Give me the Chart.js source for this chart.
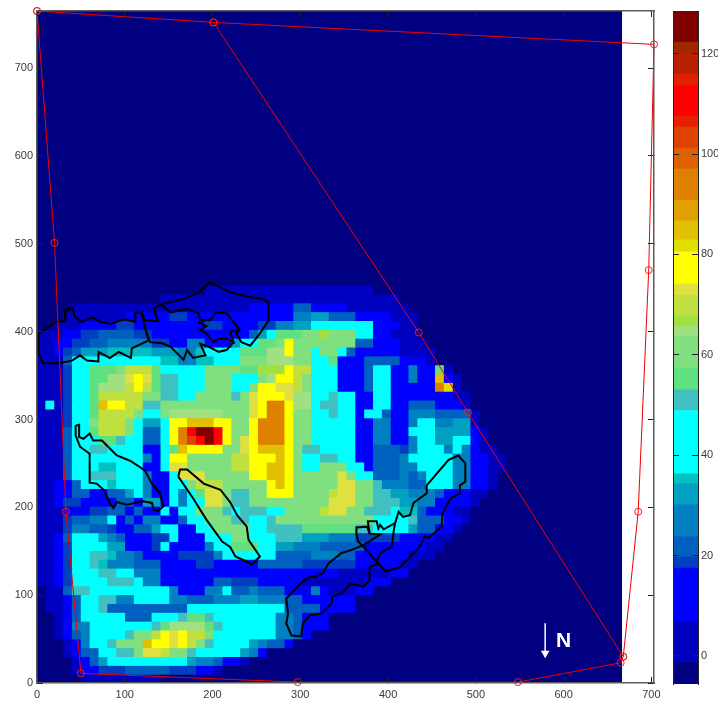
<!DOCTYPE html>
<html>
<head>
<meta charset="utf-8">
<script src="https://cdn.jsdelivr.net/npm/chart.js@4/dist/chart.umd.min.js"></script>
<style>
body { margin: 0; background: #fff; }
#plot { position: absolute; left: 0; top: 0; }
#bar { position: absolute; left: 660px; top: 0; }
</style>
</head>
<body>
<canvas id="plot" width="718" height="702"></canvas>
<canvas id="bar" width="58" height="702"></canvas>
<script>
// Colour scale
const levelEdges = [-5.6,-1.3,6.9,17.5,19.7,23.8,30.1,34.3,36.3,48.9,53,57.4,63.6,65.6,67.8,71.9,74.1,80.5,82.9,86.7,90.8,97,101.2,105.4,107.5,113.7,115.9,120.2,122.3,128.5];
const levelColors = ['#000080','#0000c0','#0000ff','#0040c0','#0060c0','#0080c0','#00a0c0','#00c0c0','#00ffff','#40c0c0','#60e080','#80e080','#a0e080','#a0e040','#c0e040','#e0e040','#ffff00','#e0e000','#e0c000','#e0a000','#e08000','#e06000','#e04000','#e82000','#ff0000','#e02000','#b82000','#a02800','#800000'];
const axisTicks = [0,100,200,300,400,500,600,700];
const barTicks = [0,20,40,60,80,100,120];

// Short names for the field values that occur
const n=-4,b=3,c=12,d=18.5,e=22,f=27,g=32,h=35,i=42,j=51,k=55,l=60,m=64.6,o=67,p=70,q=73,r=77,s=81.5,t=85,v=94,x=103,z=110,D=125;

// Field rows bottom to top, as value,count runs over columns; anything after a run list is background
const row00=[n,5,b,9];
const row01=[n,4,b,1,c,2,d,3,e,5,d,3,c,2,b,1];
const row02=[n,4,b,1,c,1,e,1,g,1,i,9,g,1,f,2,e,1,c,2,b,1];
const row03=[n,3,b,1,c,1,e,2,i,2,j,2,l,1,q,2,p,1,l,2,j,1,i,5,g,1,f,1,c,1];
const row04=[n,3,b,1,c,1,f,1,i,2,j,1,l,3,t,1,r,2,q,1,r,1,p,1,l,1,j,1,i,4,g,1,f,1,e,2,c,1];
const row05=[n,2,b,1,c,1,e,1,f,1,i,4,j,1,l,2,p,1,r,1,q,1,r,1,p,2,l,1,i,7,f,2,e,1,c,1];
const row06=[n,2,b,1,c,1,f,2,i,7,j,1,k,1,m,4,k,1,j,1,i,6,f,2,e,1,c,3];
const row07=[n,2,b,1,c,1,e,1,i,5,e,3,i,3,j,1,k,2,j,1,i,7,f,2,e,1,c,3];
const row08=[n,1,b,2,c,1,e,1,i,2,j,1,e,9,i,11,e,4,c,4];
const row09=[n,1,b,2,c,1,e,1,i,2,j,2,f,2,i,4,f,2,e,3,f,3,g,2,f,3,e,2,c,6];
const row10=[n,1,b,2,e,1,j,2,i,9,f,1,c,3,f,2,i,1,e,2,f,1,e,3,c,3,f,1,c,1,b,3,c,2];
const row11=[b,2,c,1,d,1,i,4,j,3,i,1,f,2,c,6,e,2,d,3,c,5,b,7,c,3];
const row12=[b,2,c,1,d,1,i,3,j,2,i,2,f,3,c,20,b,6,c,2];
const row13=[b,2,c,1,d,1,i,2,j,1,h,1,f,3,e,3,c,4,d,2,c,5,e,5,d,6,c,5,b,2];
const row14=[b,2,c,1,d,1,i,2,j,2,h,1,f,2,e,1,c,4,d,4,f,1,i,6,e,4,f,3,e,2,c,6,b,3];
const row15=[b,2,c,1,d,1,i,4,g,2,c,3,d,1,i,1,c,4,f,1,i,2,k,3,i,2,g,2,f,3,e,5,c,7,b,2];
const row16=[b,2,c,1,e,1,i,3,g,1,f,1,e,1,c,3,d,2,i,1,c,3,i,3,l,2,i,3,j,3,g,3,f,3,d,5,c,4,b,2];
const row17=[b,3,d,1,f,2,e,2,d,1,c,2,e,2,g,1,i,2,c,2,i,2,l,4,i,2,j,4,k,6,j,2,i,4,g,1,e,2,c,2,b,1];
const row18=[b,3,d,1,e,2,f,2,i,1,c,1,e,1,c,1,f,2,c,2,e,1,i,2,l,3,j,2,i,2,j,1,l,11,i,4,j,1,e,3,c,2,b,1];
const row19=[b,3,c,3,d,2,e,2,c,1,e,1,c,2,i,1,c,1,i,2,l,3,j,1,i,1,j,3,i,2,l,4,p,1,q,2,l,2,j,3,i,1,h,2,e,1,c,3,b,2];
const row20=[b,2,c,1,d,2,c,4,e,2,c,1,g,2,c,1,i,1,f,1,i,2,q,2,l,1,j,2,l,9,q,3,l,2,j,3,g,2,f,2,c,4,b,1];
const row21=[b,2,c,2,e,2,c,2,e,2,g,1,i,1,f,1,c,2,i,1,f,1,i,1,k,1,q,2,l,1,j,2,l,2,r,3,l,4,p,1,q,2,l,2,j,2,g,2,f,3,e,1,c,3,b,2];
const row22=[b,2,c,2,e,1,i,3,h,1,i,3,f,1,c,2,i,2,l,1,p,3,l,5,r,1,t,1,r,1,l,5,q,2,l,2,j,1,f,3,e,2,i,3,f,2,c,2,b,1];
const row23=[b,3,e,1,i,2,j,3,i,3,f,1,c,2,i,1,q,3,l,5,r,2,t,2,r,1,l,5,q,1,l,1,i,2,e,3,f,1,e,1,f,1,i,3,f,2,c,2,b,1];
const row24=[b,3,e,1,i,3,h,2,i,3,c,2,i,1,q,2,l,5,p,2,r,2,t,2,r,1,l,1,i,2,l,3,i,2,c,1,e,3,f,2,i,4,f,2,c,2,b,2];
const row25=[b,3,e,1,i,8,f,1,c,1,i,1,r,2,l,5,p,2,r,3,t,1,r,1,l,1,i,2,j,2,i,2,c,2,e,3,f,1,i,5,f,2,c,2,b,2];
const row26=[b,3,e,1,i,2,j,2,i,4,c,2,i,1,k,1,t,1,r,4,l,2,q,1,r,1,t,3,r,1,l,1,j,2,i,4,c,2,e,3,d,1,f,1,i,3,f,1,i,1,f,1,c,1,b,2];
const row27=[b,3,e,1,i,3,k,2,j,1,i,2,e,2,i,1,r,1,v,1,x,1,z,1,D,1,z,1,r,1,l,1,q,1,r,1,v,3,r,1,l,2,i,5,c,2,f,2,c,2,f,1,i,2,g,2,i,2,c,1,b,1];
const row28=[b,3,e,1,i,2,k,1,p,3,l,1,i,1,e,2,i,1,r,1,v,1,z,1,D,2,z,1,r,1,l,2,r,1,v,3,r,1,l,2,i,5,c,2,f,2,c,2,i,3,g,4,c,1,b,1];
const row29=[b,3,d,1,i,2,l,1,p,3,l,1,i,1,g,2,i,1,r,2,t,3,r,2,l,2,r,1,v,3,r,1,l,2,i,5,c,2,f,2,c,2,f,1,i,2,f,2,g,2,b,1];
const row30=[b,3,d,1,i,2,k,1,p,4,l,1,i,2,l,1,m,6,l,3,q,1,r,1,v,2,r,1,l,2,i,2,j,1,i,2,c,1,i,2,e,1,c,2,f,3,e,4,b,1];
const row31=[b,1,i,1,b,1,d,1,i,2,k,1,t,1,r,2,p,2,j,2,l,10,q,1,r,1,v,2,r,1,m,2,i,1,j,2,i,2,c,2,i,2,c,2,e,3,c,3,b,1];
const row32=[b,3,d,1,i,2,k,1,p,5,l,2,j,2,i,2,l,4,j,1,l,1,q,1,r,3,q,1,m,2,i,2,j,1,i,2,c,2,i,2,c,7,b,2];
const row33=[b,3,d,1,i,2,k,1,m,3,p,1,r,1,p,1,k,1,j,2,i,3,l,3,i,2,l,1,r,2,q,2,p,1,l,1,i,3,c,3,e,1,i,2,c,5,v,1,s,1,b,1];
const row34=[b,3,d,1,i,2,k,2,m,2,q,1,r,1,q,1,k,1,j,2,i,3,l,3,i,3,l,1,m,1,r,2,p,1,l,1,i,3,c,3,e,1,i,2,c,2,f,1,c,2,t,1,c,1,b,1];
const row35=[b,3,d,1,i,2,k,3,l,1,p,3,k,1,i,5,l,4,k,2,o,3,r,1,p,2,i,3,c,3,e,1,i,2,c,2,f,1,c,2,k,1,b,1];
const row36=[b,3,e,1,i,10,h,2,f,2,h,2,i,3,l,3,m,3,l,2,i,2,k,1,c,3,e,4,c,3,b,1];
const row37=[b,2,c,1,d,1,e,1,g,3,h,5,g,3,f,2,h,1,i,4,k,3,m,2,r,1,l,2,i,1,l,2,i,1,e,1,c,5,b,4];
const row38=[b,2,c,2,d,2,e,2,f,5,d,2,c,2,f,2,c,3,g,1,i,2,k,2,l,1,r,1,l,7,e,2,c,3,b,3];
const row39=[b,3,c,2,d,2,e,4,d,2,c,11,e,1,g,1,i,1,k,3,l,2,o,1,l,3,i,2,c,2,b,3];
const row40=[n,2,b,3,c,4,d,2,c,8,d,2,c,4,d,2,f,2,g,2,i,7,c,3,b,2];
const row41=[n,3,b,7,c,5,d,2,c,12,f,2,g,2,e,3,c,4,b,3];
const row42=[n,4,b,20,c,5,e,2,c,4,b,7];
const row43=[n,14,b,27];
const row44=[n,19,b,19];
const fieldRows=[row00,row01,row02,row03,row04,row05,row06,row07,row08,row09,row10,row11,row12,row13,row14,row15,row16,row17,row18,row19,row20,row21,row22,row23,row24,row25,row26,row27,row28,row29,row30,row31,row32,row33,row34,row35,row36,row37,row38,row39,row40,row41,row42,row43,row44];
const fieldCols = 66, fieldRowCount = 76, fieldWidth = 666, fieldHeight = 765;

// Red survey polygon and its inner diagonal
const polygonX = [0,201,703,697,685,668,665,548,297,50,33,20,0];
const polygonY = [765,752,727,470,195,30,23,1,1,11,195,501,765];
const diagonalX = [201,435,491,668];
const diagonalY = [752,399,308,30];

// Black outlines
const topLoopX = [141,167,184,197,220,239,258,264,264,254,243,233,227,231,216,204,197,186,184,171,152,141];
const topLoopY = [431,437,444,456,445,440,437,432,413,398,384,388,398,402,421,422,413,413,421,426,422,431];
const fingersX = [231,220,224,216,207,201,193,186,193,184];
const fingersY = [402,400,388,392,392,388,398,402,406,411];
const upperLoopX = [224,216,207,193,186,192,178,171,167,152,142,129,123,119,112,112,100,83,72,63,51,43,41,33,32,22,1.5,1.5,7,24,40,49,57,70,70,83,93,107,108,127,123];
const upperLoopY = [388,379,377,384,386,373,370,379,368,383,387,388,405,422,421,411,414,409,411,416,411,417,427,425,412,411,398,375,364,364,367,373,367,366,377,370,377,370,381,390,405];
const upperLinkX = [119,123,138,133,141];
const upperLinkY = [422,413,412,426,431];
const leftLoopX = [44,48,48,53,60,64,74,87,91,106,123,131,140,144,138,133,131,121,102,91,87,83,76,68,60,60,60,49,44,44];
const leftLoopY = [293,294,280,278,284,276,276,263,259,253,242,227,216,201,196,197,205,207,203,206,199,205,220,227,228,243,261,269,282,293];
const midLoopX = [161,163,171,190,209,220,228,239,241,254,245,235,226,220,211,193,178,161];
const midLoopY = [235,243,243,227,220,206,191,178,163,144,135,140,144,155,161,186,210,235];
const lowerLoopX = [408,412,417,425,429,444,444,469,480,488,488,482,482,471,462,461,446,442,436,414,404,397,389,379,379,372,357,347,336,336,324,311,303,301,290,284,286,284,300,311,317,326,332,347,357,372,391,379,376,364,364,366,373,387,389];
const lowerLoopY = [182,195,189,191,205,216,225,254,259,250,229,225,216,210,193,178,165,167,155,132,129,127,136,132,117,110,113,102,98,91,79,77,68,53,54,68,79,96,113,121,121,125,136,148,151,157,169,170,178,177,169,161,154,138,136];
const lowerLinkX = [387,391,404,406,408,395,391,389,387,377,379];
const lowerLinkY = [138,148,155,170,182,175,180,176,184,184,170];

// North arrow
const arrowX = [579,579];
const arrowY = [68,34];
const northLabel = 'N';
const northX = 600, northY = 48;

const colorOf = val => levelColors[Math.max(0, levelEdges.findIndex(edge => val < edge) - 1)];
const toPoints = (xs, ys) => xs.map((val, idx) => ({x: val, y: ys[idx]}));

// Expand the runs into one square per cell
const cellPoints = [], cellColors = [];
for (let rowIndex = 0; rowIndex < fieldRowCount; rowIndex++) {
    const runs = fieldRows[rowIndex] || [];
    const values = [];
    for (let run = 0; run < runs.length; run += 2) {
        for (let count = 0; count < runs[run + 1]; count++) values.push(runs[run]);
    }
    for (let colIndex = 0; colIndex < fieldCols; colIndex++) {
        const val = colIndex < values.length ? values[colIndex] : n;
        cellPoints.push({x: (colIndex + 0.5) * fieldWidth / fieldCols, y: (rowIndex + 0.5) * fieldHeight / fieldRowCount});
        cellColors.push(colorOf(val));
    }
}

function outline(xs, ys) {
    return { type:'line', data:toPoints(xs, ys), borderColor:'#000', borderWidth:2, pointRadius:0, tension:0, fill:false, order:2, clip:false };
}

// Fixes an axis size and drops the room Chart.js keeps for half a tick label
const fixedSize = (prop, size) => scale => {
    scale[prop] = size;
    scale.paddingTop = scale.paddingBottom = scale.paddingLeft = scale.paddingRight = 0;
};
const tickFont = { family:'"Liberation Sans", Arial, sans-serif', size:11 };
const tickColor = '#3a3a3a';
const frame = { display:true, color:'#5a5a5a', width:1.5, z:2 };
const tickMarks = { drawOnChartArea:false, drawTicks:true, tickLength:-6, color:'#222', z:2 };

const northText = {
    id:'northText',
    afterDatasetsDraw(ch) {
        const ctx = ch.ctx;
        ctx.save();
        ctx.fillStyle = '#fff';
        ctx.font = 'bold 21px "Liberation Sans", Arial, sans-serif';
        ctx.textAlign = 'center';
        ctx.textBaseline = 'middle';
        ctx.fillText(northLabel, ch.scales.x.getPixelForValue(northX), ch.scales.y.getPixelForValue(northY));
        ctx.restore();
    }
};

new Chart(document.getElementById('plot').getContext('2d'), {
    type:'scatter',
    plugins:[northText],
    data:{ datasets:[
        { data:cellPoints, pointStyle:'rect', pointRadius:7, pointBackgroundColor:cellColors, pointBorderWidth:0, pointHoverRadius:7, order:10, clip:0 },
        outline(topLoopX, topLoopY),
        outline(fingersX, fingersY),
        outline(upperLoopX, upperLoopY),
        outline(upperLinkX, upperLinkY),
        outline(leftLoopX, leftLoopY),
        outline(midLoopX, midLoopY),
        outline(lowerLoopX, lowerLoopY),
        outline(lowerLinkX, lowerLinkY),
        { type:'line', data:toPoints(polygonX, polygonY), borderColor:'#f00000', borderWidth:1, tension:0, fill:false, pointRadius:3.5, pointBorderColor:'#f02020', pointBackgroundColor:'transparent', pointBorderWidth:1, order:1, clip:false },
        { type:'line', data:toPoints(diagonalX, diagonalY), borderColor:'#f00000', borderWidth:1, tension:0, fill:false, pointRadius:3.5, pointBorderColor:'#f02020', pointBackgroundColor:'transparent', pointBorderWidth:1, order:1, clip:false },
        { type:'line', data:toPoints(arrowX, arrowY), borderColor:'#fff', borderWidth:1.5, tension:0, fill:false, pointStyle:'triangle', pointRotation:180, pointRadius:[0,5], pointBackgroundColor:'#fff', pointBorderColor:'#fff', pointBorderWidth:0, order:0 }
    ]},
    options:{
        responsive:false,
        animation:false,
        events:[],
        layout:{ padding:{ left:0, right:64, top:11, bottom:0 } },
        plugins:{ legend:{ display:false }, tooltip:{ enabled:false } },
        scales:{
            x:{ type:'linear', position:'bottom', min:0, max:703, afterFit:fixedSize('height',19), border:frame, grid:tickMarks,
                afterBuildTicks:ax => { ax.ticks = axisTicks.map(val => ({value:val})); },
                ticks:{ font:tickFont, color:tickColor, padding:11, maxRotation:0, autoSkip:false } },
            y:{ type:'linear', position:'left', min:0, max:765, afterFit:fixedSize('width',37), border:frame, grid:tickMarks,
                afterBuildTicks:ax => { ax.ticks = axisTicks.map(val => ({value:val})); },
                ticks:{ font:tickFont, color:tickColor, padding:10, autoSkip:false } },
            xTop:{ type:'linear', position:'top', min:0, max:703, afterFit:fixedSize('height',0), border:frame, grid:tickMarks,
                afterBuildTicks:ax => { ax.ticks = axisTicks.map(val => ({value:val})); },
                ticks:{ display:false } },
            yRight:{ type:'linear', position:'right', min:0, max:765, afterFit:fixedSize('width',0), border:frame, grid:tickMarks,
                afterBuildTicks:ax => { ax.ticks = axisTicks.map(val => ({value:val})); },
                ticks:{ display:false } }
        }
    }
});

// Colour bar: one floating bar per level
const barFrame = { display:true, color:'#222', width:1, z:2 };
const barMarks = { drawOnChartArea:false, drawTicks:true, tickLength:-6, color:'#222', z:2 };
new Chart(document.getElementById('bar').getContext('2d'), {
    type:'bar',
    data:{ labels:['level'], datasets:levelColors.map((col, idx) => ({
        data:[[levelEdges[idx], levelEdges[idx + 1]]], backgroundColor:col, borderWidth:0, barPercentage:1, categoryPercentage:1, grouped:false
    })) },
    options:{
        responsive:false,
        animation:false,
        events:[],
        layout:{ padding:{ left:13, right:0, top:11, bottom:18 } },
        plugins:{ legend:{ display:false }, tooltip:{ enabled:false } },
        scales:{
            x:{ display:false, offset:true },
            y:{ position:'right', min:-5.6, max:128.5, afterFit:fixedSize('width',20), border:barFrame, grid:barMarks,
                afterBuildTicks:ax => { ax.ticks = barTicks.map(val => ({value:val})); },
                ticks:{ font:tickFont, color:tickColor, padding:9, autoSkip:false } },
            yLeft:{ position:'left', min:-5.6, max:128.5, afterFit:fixedSize('width',0), border:barFrame, grid:barMarks,
                afterBuildTicks:ax => { ax.ticks = barTicks.map(val => ({value:val})); },
                ticks:{ display:false } }
        }
    }
});
</script>
</body>
</html>
